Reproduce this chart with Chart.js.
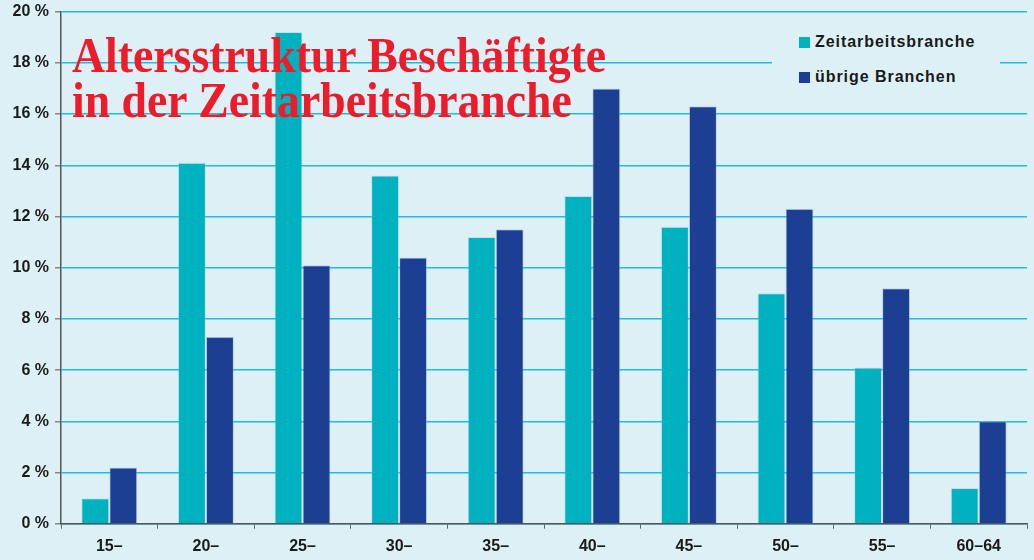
<!DOCTYPE html>
<html>
<head>
<meta charset="utf-8">
<script src="https://cdn.jsdelivr.net/npm/chart.js@4/dist/chart.umd.min.js"></script>
<style>
  html, body { margin: 0; padding: 0; background: #dcf0f6; }
  #wrap { position: relative; width: 1034px; height: 560px; overflow: hidden; }
  #bar-chart-alter { position: absolute; left: 0; top: -4px; }
  #titel {
    position: absolute; left: 72px; top: 33px;
    font-family: "Liberation Serif", serif; font-weight: bold;
    font-size: 50px; line-height: 45px; color: #ec1c2a;
    transform: scaleX(0.915); transform-origin: left top; white-space: nowrap;
  }
  #legende {
    position: absolute; left: 772px; top: 26px; width: 228px; height: 72px;
    background: #dcf0f6;
    font-family: "Liberation Sans", Arial, sans-serif; font-weight: bold;
    font-size: 16px; color: #1a1a1a; letter-spacing: 0.95px;
  }
  .row { position: absolute; left: 27px; height: 12px; display: flex; align-items: center; white-space: nowrap; }
  .box { width: 11px; height: 11px; margin-right: 5px; }
</style>
</head>
<body>
<div id="wrap">
  <canvas id="bar-chart-alter" width="1034" height="564"></canvas>
  <div id="titel">Altersstruktur Beschäftigte<br>in der Zeitarbeitsbranche</div>
  <div id="legende"></div>
</div>
<script>
const altersgruppen = ['15–', '20–', '25–', '30–', '35–', '40–', '45–', '50–', '55–', '60–64'];
const zeitarbeit = [1.0, 14.1, 19.2, 13.6, 11.2, 12.8, 11.6, 9.0, 6.1, 1.4];
const uebrige = [2.2, 7.3, 10.1, 10.4, 11.5, 17.0, 16.3, 12.3, 9.2, 4.0];
const serienNamen = ['Zeitarbeitsbranche', 'übrige Branchen'];
const farben = ['#00b1bf', '#1c3f94'];

// legend as html, box covers the grid lines like in the print
const legende = document.getElementById('legende');
serienNamen.forEach((name, i) => {
  const row = document.createElement('div');
  row.className = 'row';
  row.style.top = (10 + i * 35) + 'px';
  row.innerHTML = '<span class="box" style="background:' + farben[i] + '"></span>' + name;
  legende.appendChild(row);
});

const ctx = document.getElementById('bar-chart-alter').getContext('2d');
const tickFont = { family: 'Liberation Sans', weight: 'bold', size: 16 };

new Chart(ctx, {
  type: 'bar',
  data: {
    labels: altersgruppen,
    datasets: [
      { label: serienNamen[0], data: zeitarbeit, backgroundColor: farben[0],
        borderColor: 'rgba(150,200,225,0.35)', borderWidth: 1 },
      { label: serienNamen[1], data: uebrige, backgroundColor: farben[1],
        borderColor: 'rgba(150,180,220,0.45)', borderWidth: 1 }
    ]
  },
  options: {
    responsive: false,
    animation: false,
    layout: { padding: { top: 0, right: 7, left: 0, bottom: 0 } },
    plugins: { legend: { display: false }, tooltip: { enabled: false } },
    datasets: { bar: { barPercentage: 1.0, categoryPercentage: 0.58 } },
    scales: {
      x: {
        grid: { drawOnChartArea: false, drawTicks: true, tickLength: 5, tickColor: '#666', offset: true },
        border: { color: '#555', width: 1.5 },
        ticks: { color: '#1a1a1a', font: tickFont, padding: 8 },
        afterFit: s => { s.height = s.height - 4; }
      },
      y: {
        min: 0, max: 20,
        grid: { color: '#1cbde0', lineWidth: 1.5, tickColor: '#888', tickLength: 6 },
        border: { color: '#555', width: 1.5 },
        ticks: { stepSize: 2, color: '#1a1a1a', font: tickFont, padding: 6,
          callback: v => v + ' %' },
        afterFit: s => { s.width = 61; }
      }
    }
  }
});
</script>
</body>
</html>
